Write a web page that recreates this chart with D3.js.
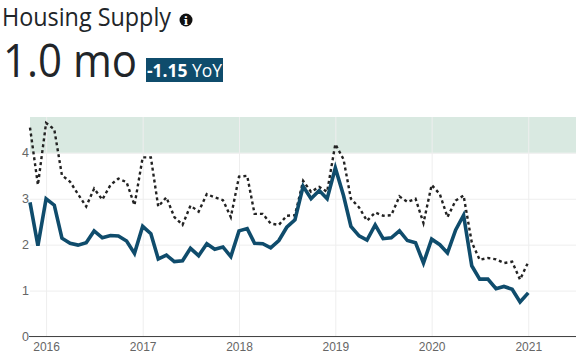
<!DOCTYPE html>
<html><head><meta charset="utf-8">
<script src="https://cdn.jsdelivr.net/npm/d3@7"></script>
<style>
html,body{margin:0;padding:0;background:#fff;overflow:hidden}
svg{display:block;font-family:"Open Sans",sans-serif}
</style></head><body><svg id="c" width="581" height="364"></svg>
<script>
const title="Housing Supply", bigValue="1.0 mo", deltaValue="-1.15", deltaUnit=" YoY";
const startMonth=new Date(2015,10,1), endMonth=new Date(2021,0,1);
const currentSeries=[2.92,1.98,3.0,2.86,2.14,2.03,1.99,2.04,2.3,2.15,2.2,2.19,2.08,1.81,2.4,2.24,1.69,1.77,1.63,1.65,1.92,1.76,2.02,1.9,1.95,1.74,2.3,2.35,2.03,2.02,1.93,2.09,2.38,2.54,3.27,3.0,3.18,3.0,3.67,3.07,2.4,2.19,2.1,2.43,2.13,2.15,2.3,2.09,2.04,1.6,2.12,2.0,1.82,2.32,2.64,1.54,1.25,1.25,1.04,1.09,1.03,0.75,0.95];
const priorSeries=[4.55,3.3,4.65,4.51,3.51,3.37,3.1,2.83,3.22,2.98,3.3,3.44,3.36,2.86,3.9,3.9,2.83,3.03,2.6,2.43,2.85,2.72,3.1,3.03,2.97,2.6,3.48,3.5,2.67,2.67,2.46,2.43,2.63,2.64,3.39,3.15,3.26,3.15,4.19,3.86,3.0,2.81,2.52,2.7,2.63,2.64,3.05,2.93,3.0,2.47,3.3,3.1,2.6,2.96,3.07,2.05,1.67,1.71,1.68,1.6,1.63,1.24,1.62];
const yTicks=[0,1,2,3,4], xYears=[2016,2017,2018,2019,2020,2021];
const bandFloor=4;

const months=d3.timeMonth.range(startMonth,d3.timeMonth.offset(endMonth,1));
const L=30,R=576,T=117,B=336.5;
const x=d3.scaleTime().domain([startMonth,new Date(2021,6,1)]).range([L,R]);
const y=d3.scaleLinear().domain([0,4.78]).range([B,T]);
const svg=d3.select("#c");

svg.append("rect").attr("x",L).attr("y",T).attr("width",R-L).attr("height",y(bandFloor)-T).attr("fill","#d9e9e1");

const gy=svg.append("g").attr("transform",`translate(${L},0)`)
  .call(d3.axisLeft(y).tickValues(yTicks).tickSize(-(R-L)).tickPadding(1).tickFormat(d3.format("d")));
gy.select(".domain").remove();
gy.selectAll("line").attr("stroke","#eee").attr("stroke-width",1);
gy.selectAll("text").attr("fill","#666").attr("font-size",12.5);

const gx=svg.append("g").attr("transform",`translate(0,${B})`)
  .call(d3.axisBottom(x).tickValues(xYears.map(v=>new Date(v,0,1))).tickSize(-(B-T)).tickPadding(4).tickFormat(d3.timeFormat("%Y")));
gx.select(".domain").remove();
gx.selectAll("line").attr("stroke","#eee").attr("stroke-width",1);
gx.selectAll("text").attr("fill","#666").attr("font-size",12).attr("dy","0.9em");

svg.append("line").attr("x1",L-1).attr("x2",R).attr("y1",B).attr("y2",B).attr("stroke","#444").attr("stroke-width",1);

const line=d3.line().x((d,i)=>x(months[i])).y(d=>y(d));
svg.append("path").datum(priorSeries).attr("d",line).attr("fill","none")
  .attr("stroke","#222").attr("stroke-width",2.4).attr("stroke-dasharray","3,3");
svg.append("path").datum(currentSeries).attr("d",line).attr("fill","none")
  .attr("stroke","#0f4c6c").attr("stroke-width",3.6).attr("stroke-linejoin","miter");

svg.append("text").attr("x",2).attr("y",26).attr("font-size",25).attr("font-weight",500).attr("fill","#212529")
  .attr("textLength",169).attr("lengthAdjust","spacingAndGlyphs").text(title);
svg.append("circle").attr("cx",186).attr("cy",20).attr("r",6.5).attr("fill","#111");
svg.append("text").attr("x",186).attr("y",24.5).attr("text-anchor","middle").attr("font-size",11.5).attr("font-weight",800).attr("font-family","'DejaVu Serif',serif").attr("fill","#fff").text("i");
svg.append("text").attr("x",3).attr("y",77).attr("font-size",45).attr("font-weight",500).attr("fill","#212529")
  .attr("textLength",134).attr("lengthAdjust","spacingAndGlyphs").text(bigValue);
svg.append("rect").attr("x",146).attr("y",58).attr("width",77).attr("height",24).attr("fill","#0f4c6c");
const t=svg.append("text").attr("x",147).attr("y",77).attr("font-size",18).attr("fill","#fff")
  .attr("textLength",75).attr("lengthAdjust","spacingAndGlyphs");
t.append("tspan").attr("font-weight",700).text(deltaValue);
t.append("tspan").attr("xml:space","preserve").text(deltaUnit);
</script></body></html>
